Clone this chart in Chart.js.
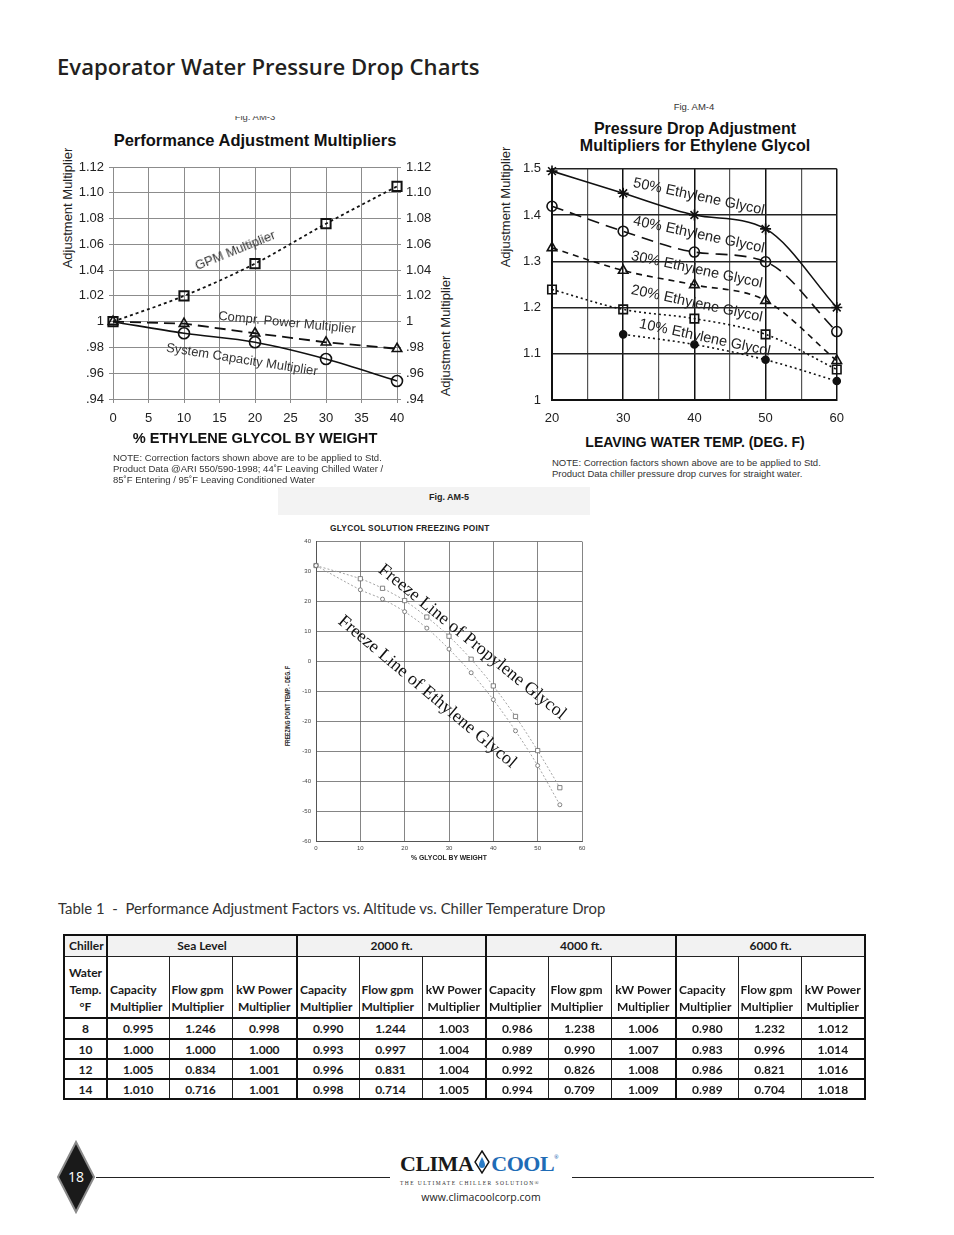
<!DOCTYPE html>
<html>
<head>
<meta charset="utf-8">
<script src="https://cdn.jsdelivr.net/npm/chart.js@4.4.1/dist/chart.umd.min.js"></script>
<style>
body { margin: 0; background: #fff; }
#page { position: relative; width: 954px; height: 1235px; overflow: hidden; font-family: "Liberation Sans", Arial, sans-serif; color: #222; }
.t { position: absolute; white-space: nowrap; line-height: 1; }
.cc { transform: translate(-50%, -50%); }
.lc { transform: translate(0, -50%); }
canvas { position: absolute; }
.note { position: absolute; font-size: 9.5px; line-height: 11px; color: #333; white-space: nowrap; }
#tbl { position: absolute; left: 63px; top: 934px; width: 801px; border-collapse: collapse; table-layout: fixed;
  font-family: Lato, "Open Sans", sans-serif; font-weight: bold; font-size: 12px; color: #1a1a1a; border: 2px solid #111; }
#tbl td { border: 1px solid #222; padding: 0 2px; text-align: center; overflow: hidden; white-space: nowrap; }
#tbl td.g { border-left: 2px solid #111; }
#tbl tr.h1 td { background: #f2f2f2; }
#tbl tr.h2 td { vertical-align: bottom; line-height: 17px; padding-bottom: 2px; border-bottom: 2px solid #111; }
#tbl tr.h2 td.l { text-align: left; }
#tbl tr.d td { border-bottom: 2px solid #111; }
</style>
</head>
<body>
<div id="page">

<div class="t lc" style="left:57px;top:66px;font-family:'Open Sans';font-weight:600;font-size:22.1px;color:#231f20;">Evaporator Water Pressure Drop Charts</div>

<!-- Fig. AM-3 -->
<div style="position:absolute;left:200px;top:116px;width:110px;height:6px;overflow:hidden;">
  <div class="t" style="left:55px;top:-4px;transform:translateX(-50%);font-size:9.5px;color:#444;">Fig. AM-3</div>
</div>
<div class="t cc" style="left:255px;top:140px;font-size:16.5px;font-weight:bold;color:#111;">Performance Adjustment Multipliers</div>
<div class="t cc" style="left:67px;top:208px;font-size:13px;transform:translate(-50%,-50%) rotate(-90deg);">Adjustment Multiplier</div>
<div class="t cc" style="left:445px;top:336px;font-size:13px;transform:translate(-50%,-50%) rotate(-90deg);">Adjustment Multiplier</div>
<canvas id="am3" width="405" height="280" style="left:60px;top:150px;"></canvas>
<div class="t cc" style="left:235px;top:250px;font-size:13px;color:#333;transform:translate(-50%,-50%) rotate(-22deg);">GPM Multiplier</div>
<div class="t cc" style="left:287px;top:322px;font-size:13px;color:#333;transform:translate(-50%,-50%) rotate(5.5deg);">Compr. Power Multiplier</div>
<div class="t cc" style="left:242px;top:359px;font-size:13px;color:#333;transform:translate(-50%,-50%) rotate(9deg);">System Capacity Multiplier</div>
<div class="t cc" style="left:255px;top:438px;font-size:14.6px;font-weight:bold;color:#111;">% ETHYLENE GLYCOL BY WEIGHT</div>
<div class="note" style="left:113px;top:452px;">NOTE: Correction factors shown above are to be applied to Std.<br>Product Data @ARI 550/590-1998; 44˚F Leaving Chilled Water /<br>85˚F Entering / 95˚F Leaving Conditioned Water</div>

<!-- Fig. AM-4 -->
<div class="t cc" style="left:694px;top:107px;font-size:9.5px;color:#333;">Fig. AM-4</div>
<div class="t cc" style="left:695px;top:129px;font-size:16px;font-weight:bold;color:#111;">Pressure Drop Adjustment</div>
<div class="t cc" style="left:695px;top:146px;font-size:16px;font-weight:bold;color:#111;">Multipliers for Ethylene Glycol</div>
<div class="t cc" style="left:505px;top:207px;font-size:13px;transform:translate(-50%,-50%) rotate(-90deg);">Adjustment Multiplier</div>
<canvas id="am4" width="350" height="280" style="left:505px;top:150px;"></canvas>
<div class="t cc" style="left:699px;top:196px;font-size:14.5px;color:#222;transform:translate(-50%,-50%) rotate(12deg);">50% Ethylene Glycol</div>
<div class="t cc" style="left:699px;top:234px;font-size:14.5px;color:#222;transform:translate(-50%,-50%) rotate(12deg);">40% Ethylene Glycol</div>
<div class="t cc" style="left:697px;top:269px;font-size:14.5px;color:#222;transform:translate(-50%,-50%) rotate(12deg);">30% Ethylene Glycol</div>
<div class="t cc" style="left:697px;top:303px;font-size:14.5px;color:#222;transform:translate(-50%,-50%) rotate(12deg);">20% Ethylene Glycol</div>
<div class="t cc" style="left:705px;top:337px;font-size:14.5px;color:#222;transform:translate(-50%,-50%) rotate(12deg);">10% Ethylene Glycol</div>
<div class="t cc" style="left:695px;top:442px;font-size:14px;font-weight:bold;color:#111;">LEAVING WATER TEMP. (DEG. F)</div>
<div class="note" style="left:552px;top:457px;">NOTE: Correction factors shown above are to be applied to Std.<br>Product Data chiller pressure drop curves for straight water.</div>

<!-- Fig. AM-5 -->
<div style="position:absolute;left:278px;top:487px;width:312px;height:28px;background:#f3f3f3;"></div>
<div class="t cc" style="left:449px;top:497px;font-size:9px;font-weight:bold;color:#222;">Fig. AM-5</div>
<div class="t lc" style="left:330px;top:528px;font-size:8.3px;font-weight:bold;color:#222;letter-spacing:0.3px;">GLYCOL SOLUTION FREEZING POINT</div>
<div class="t cc" style="left:288px;top:706px;font-size:6.5px;font-weight:bold;color:#222;transform:translate(-50%,-50%) rotate(-90deg) scaleX(0.78);">FREEZING POINT TEMP. - DEG. F</div>
<canvas id="am5" width="300" height="322" style="left:290px;top:533px;"></canvas>
<div class="t cc" style="left:473px;top:641px;font-family:'Liberation Serif';font-size:18px;color:#111;transform:translate(-50%,-50%) rotate(39deg);">Freeze Line of Propylene Glycol</div>
<div class="t cc" style="left:428px;top:691px;font-family:'Liberation Serif';font-size:18px;color:#111;transform:translate(-50%,-50%) rotate(40deg);">Freeze Line of Ethylene Glycol</div>
<div class="t cc" style="left:449px;top:858px;font-size:6.8px;font-weight:bold;color:#222;">% GLYCOL BY WEIGHT</div>

<!-- Table 1 -->
<div class="t lc" style="left:58px;top:908px;font-family:Lato;font-size:14.9px;color:#333;">Table 1 &nbsp;- &nbsp;Performance Adjustment Factors vs. Altitude vs. Chiller Temperature Drop</div>
<table id="tbl"></table>

<!-- footer -->
<svg style="position:absolute;left:55px;top:1140px;" width="42" height="75">
  <polygon points="21,2 39,37 21,72 3,37" fill="#1a1a1a" stroke="#8a8a8a" stroke-width="2"/>
</svg>
<div class="t cc" style="left:76px;top:1177px;font-family:'Open Sans';font-size:14px;color:#fff;">18</div>
<div style="position:absolute;left:96px;top:1177px;width:294px;height:1px;background:#222;"></div>
<div style="position:absolute;left:572px;top:1177px;width:302px;height:1px;background:#222;"></div>
<div class="t" style="left:400px;top:1146px;font-family:'Liberation Serif';font-weight:bold;font-size:22px;line-height:22px;letter-spacing:-0.5px;">
  <span style="color:#1a1a1a;">CLIMA</span><svg width="16" height="24" style="position:relative;top:-2px;vertical-align:-5px;margin:0 1px;"><polygon points="8,1 15,12 8,23 1,12" fill="#fff" stroke="#111" stroke-width="1.4"/><path d="M8,7 C10,11 11,13 11,15 A3,3 0 0 1 5,15 C5,13 6,11 8,7 Z" fill="#2a7cc7"/></svg><span style="color:#1f6cb6;">COOL</span><span style="font-size:6px;vertical-align:12px;color:#1f6cb6;">®</span>
</div>
<div class="t" style="left:400px;top:1181px;font-family:'Liberation Serif';font-size:5.5px;letter-spacing:1.45px;color:#333;">THE ULTIMATE CHILLER SOLUTION®</div>
<div class="t cc" style="left:481px;top:1197px;font-family:'Open Sans';font-size:10.5px;color:#222;">www.climacoolcorp.com</div>

</div>

<script>
// Fig. AM-3 performance multipliers vs % ethylene glycol
const glycolPct = [0, 10, 20, 30, 40];
const gpmMult = [1.0, 1.02, 1.045, 1.076, 1.105];
const comprPowerMult = [1.0, 0.9985, 0.991, 0.984, 0.979];
const sysCapacityMult = [1.0, 0.991, 0.984, 0.971, 0.954];

// Fig. AM-4 pressure drop multipliers vs leaving water temp
const leavingTempF = [20, 30, 40, 50, 60];
const eg50 = [1.495, 1.447, 1.400, 1.370, 1.200];
const eg40 = [1.419, 1.365, 1.320, 1.299, 1.148];
const eg30 = [1.329, 1.280, 1.249, 1.215, 1.085];
const eg20 = [1.239, 1.196, 1.176, 1.142, 1.066];
const eg10 = [null, 1.142, 1.120, 1.087, 1.041];

// Fig. AM-5 freezing point vs % glycol
const glycolWeight = [0, 10, 15, 20, 25, 30, 35, 40, 45, 50, 55];
const propyleneFreeze = [32, 27.6, 24.4, 20.3, 14.8, 8.4, 0.7, -8.2, -18.4, -29.8, -42.2];
const ethyleneFreeze = [32, 23.9, 20.8, 16.6, 11.1, 4.1, -3.8, -12.8, -23.2, -34.8, -47.9];

// Table 1
const waterTempF = [8, 10, 12, 14];
const altitudes = ["Sea Level", "2000 ft.", "4000 ft.", "6000 ft."];
const seaLevel = [["0.995", "1.246", "0.998"], ["1.000", "1.000", "1.000"], ["1.005", "0.834", "1.001"], ["1.010", "0.716", "1.001"]];
const alt2000 = [["0.990", "1.244", "1.003"], ["0.993", "0.997", "1.004"], ["0.996", "0.831", "1.004"], ["0.998", "0.714", "1.005"]];
const alt4000 = [["0.986", "1.238", "1.006"], ["0.989", "0.990", "1.007"], ["0.992", "0.826", "1.008"], ["0.994", "0.709", "1.009"]];
const alt6000 = [["0.980", "1.232", "1.012"], ["0.983", "0.996", "1.014"], ["0.986", "0.821", "1.016"], ["0.989", "0.704", "1.018"]];

Chart.defaults.font.family = '"Liberation Sans", Arial, sans-serif';
Chart.defaults.color = "#222";

function pts(xs, ys) {
    return xs.map((x, i) => ({ x: x, y: ys[i] }));
}

function fmtMult(v) {
    const s = v.toFixed(2);
    if (s === "1.00") return "1";
    return v < 1 ? s.slice(1) : s;
}

const base = {
    responsive: false,
    animation: false,
    events: [],
    plugins: { legend: { display: false }, tooltip: { enabled: false } }
};

const hollow = "rgba(255,255,255,0)";

new Chart(document.getElementById("am3"), {
    type: "line",
    data: {
        datasets: [
            {
                data: pts(glycolPct, sysCapacityMult), clip: false,
                borderColor: "#111", borderWidth: 1.6, cubicInterpolationMode: "monotone",
                pointStyle: "circle", pointRadius: [0, 5.5, 5.5, 5.5, 5.5], pointBorderWidth: 1.6,
                pointBorderColor: "#111", pointBackgroundColor: hollow
            },
            {
                data: pts(glycolPct, comprPowerMult), clip: false,
                borderColor: "#111", borderWidth: 1.8, borderDash: [11, 6],
                pointStyle: "triangle", pointRadius: 5.5, pointBorderWidth: 1.6,
                pointBorderColor: "#111", pointBackgroundColor: hollow
            },
            {
                data: pts(glycolPct, gpmMult), clip: false,
                borderColor: "#111", borderWidth: 1.8, borderDash: [3, 3], cubicInterpolationMode: "monotone",
                pointStyle: "rect", pointRadius: 6.5, pointBorderWidth: 2,
                pointBorderColor: "#111", pointBackgroundColor: hollow
            }
        ]
    },
    options: {
        ...base,
        layout: { padding: { top: 17, left: 0, right: 0, bottom: 0 } },
        scales: {
            x: {
                type: "linear", min: 0, max: 40,
                ticks: { stepSize: 5, padding: 8, font: { size: 13 } },
                grid: { color: "#8c8c8c", tickLength: 4 },
                border: { color: "#8c8c8c" },
                afterFit: s => { s.height = 31; }
            },
            y: {
                min: 0.94, max: 1.12,
                ticks: { stepSize: 0.02, padding: 5, font: { size: 13 }, callback: fmtMult },
                grid: { color: "#8c8c8c", tickLength: 4 },
                border: { color: "#8c8c8c" },
                afterFit: s => { s.width = 53; }
            },
            y2: {
                position: "right", min: 0.94, max: 1.12,
                ticks: { stepSize: 0.02, padding: 5, font: { size: 13 }, callback: fmtMult },
                grid: { drawOnChartArea: false, color: "#8c8c8c", tickLength: 4 },
                border: { color: "#8c8c8c" },
                afterFit: s => { s.width = 68; }
            }
        }
    }
});

const pdStyle = { borderColor: "#111", pointBorderColor: "#111", cubicInterpolationMode: "monotone", pointBorderWidth: 1.6, clip: false };

new Chart(document.getElementById("am4"), {
    type: "line",
    data: {
        datasets: [
            { ...pdStyle, data: pts(leavingTempF, eg50), borderWidth: 1.6, pointStyle: "star", pointRadius: 5.5, pointBackgroundColor: "#111" },
            { ...pdStyle, data: pts(leavingTempF, eg40), borderWidth: 1.6, borderDash: [12, 7], pointStyle: "circle", pointRadius: 5, pointBackgroundColor: hollow },
            { ...pdStyle, data: pts(leavingTempF, eg30), borderWidth: 1.6, borderDash: [6, 5], pointStyle: "triangle", pointRadius: 5.5, pointBackgroundColor: hollow },
            { ...pdStyle, data: pts(leavingTempF, eg20), borderWidth: 1.6, borderDash: [2, 3], pointStyle: "rect", pointRadius: 6, pointBackgroundColor: hollow },
            { ...pdStyle, data: pts(leavingTempF, eg10), borderWidth: 1.6, borderDash: [2, 3], pointStyle: "circle", pointRadius: 3.5, pointBackgroundColor: "#111" }
        ]
    },
    options: {
        ...base,
        layout: { padding: { top: 16, left: 0, right: 18, bottom: 0 } },
        scales: {
            x: {
                type: "linear", min: 20, max: 60,
                ticks: { stepSize: 5, padding: 11, font: { size: 13 }, callback: v => (v % 10 === 0 ? String(v) : "") },
                grid: {
                    color: ctx => (ctx.tick && ctx.tick.value % 10 === 0 ? "#111" : "#555"),
                    lineWidth: ctx => (ctx.tick && ctx.tick.value % 10 === 0 ? 1.5 : 1.2),
                    drawTicks: false
                },
                border: { color: "#111", width: 2 },
                afterFit: s => { s.height = 30; }
            },
            y: {
                min: 1, max: 1.5,
                ticks: { stepSize: 0.1, padding: 11, font: { size: 13 }, callback: v => String(Number(v.toFixed(1))) },
                grid: { color: "#222", lineWidth: 1.4, drawTicks: false },
                border: { color: "#111", width: 2 },
                afterFit: s => { s.width = 47; }
            }
        }
    }
});

const fzStyle = { borderColor: "#9a9a9a", borderWidth: 0.9, borderDash: [2, 2], tension: 0.3, clip: false,
    pointBorderColor: "#666", pointBorderWidth: 0.8, pointBackgroundColor: "#fff" };

new Chart(document.getElementById("am5"), {
    type: "line",
    data: {
        datasets: [
            { ...fzStyle, data: pts(glycolWeight, ethyleneFreeze), pointStyle: "circle", pointRadius: 2 },
            { ...fzStyle, data: pts(glycolWeight, propyleneFreeze), pointStyle: "rect", pointRadius: 3 }
        ]
    },
    options: {
        ...base,
        layout: { padding: { top: 8, left: 0, right: 8, bottom: 0 } },
        scales: {
            x: {
                type: "linear", min: 0, max: 60,
                ticks: { stepSize: 10, padding: 4, color: "#444", font: { size: 6 } },
                grid: { color: "#666", lineWidth: 0.8, drawTicks: false },
                border: { color: "#555", width: 1 },
                afterFit: s => { s.height = 14; }
            },
            y: {
                min: -60, max: 40,
                ticks: { stepSize: 10, padding: 5, color: "#444", font: { size: 6 } },
                grid: { color: "#666", lineWidth: 0.8, drawTicks: false },
                border: { color: "#555", width: 1 },
                afterFit: s => { s.width = 26; }
            }
        }
    }
});

// Table 1
const colWidths = [43, 62, 63, 65, 62, 63, 64, 62, 63, 65, 62, 63, 64];
const altData = [seaLevel, alt2000, alt4000, alt6000];
let html = "<colgroup>" + colWidths.map(w => '<col style="width:' + w + 'px">').join("") + "</colgroup>";
html += '<tr class="h1" style="height:21px"><td style="text-align:left;padding-left:4px">Chiller</td>' +
    altitudes.map(a => '<td class="g" colspan="3">' + a + "</td>").join("") + "</tr>";
html += '<tr class="h2" style="height:62px"><td style="text-align:center">Water<br>Temp.<br>°F</td>' +
    altitudes.map(() =>
        '<td class="g l">Capacity<br>Multiplier</td><td class="l">Flow gpm<br>Multiplier</td><td>kW Power<br>Multiplier</td>'
    ).join("") + "</tr>";
waterTempF.forEach((t, r) => {
    html += '<tr class="d" style="height:' + (r === 0 ? 21 : 20) + 'px"><td>' + t + "</td>";
    altData.forEach(rows => {
        html += rows[r].map((v, c) => "<td" + (c === 0 ? ' class="g"' : "") + ">" + v + "</td>").join("");
    });
    html += "</tr>";
});
document.getElementById("tbl").innerHTML = html;
</script>
</body>
</html>
